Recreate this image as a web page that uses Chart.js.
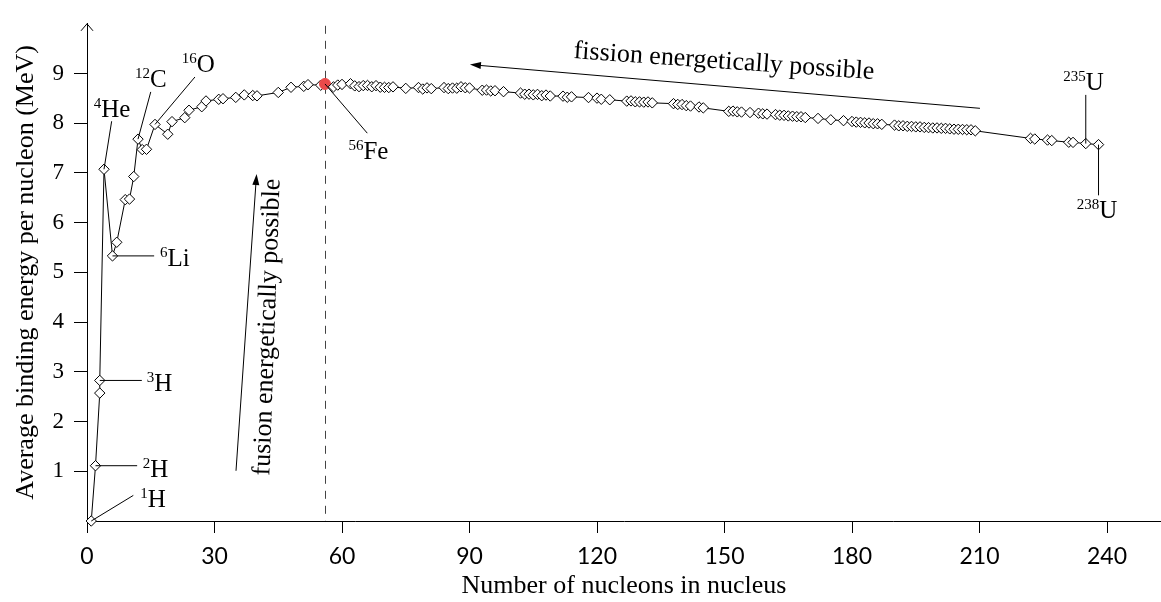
<!DOCTYPE html>
<html lang="en">
<head>
    <meta charset="UTF-8">
    <title>Binding energy per nucleon</title>
    <script src="https://cdn.jsdelivr.net/npm/chart.js"></script>
    <style>
        body {
            margin: 0;
            background: #fff;
        }
        #wrap {
            width: 1161px;
            height: 602px;
        }
    </style>
</head>
<body>
    <div id="wrap">
        <canvas id="beChart" width="1161" height="602"></canvas>
    </div>
    <script>
        // mass number A of each nucleus plotted
        const massNumber = [
            1, 2, 3, 3, 4, 6, 7, 9, 10, 11, 12, 13, 14, 16, 19, 20, 23, 24, 27, 28,
            31, 32, 35, 37, 39, 40, 45, 48, 51, 52, 55, 56, 58, 59, 60, 62, 63, 64, 65, 66,
            67, 68, 69, 70, 71, 72, 75, 78, 79, 80, 81, 84, 85, 86, 87, 88, 89, 90, 93, 94,
            95, 96, 98, 102, 103, 104, 105, 106, 107, 108, 109, 112, 113, 114, 118, 120, 121, 123, 127, 128,
            129, 130, 131, 132, 133, 138, 139, 140, 141, 142, 144, 145, 151, 152, 153, 154, 156, 158, 159, 160,
            162, 163, 164, 165, 166, 167, 168, 169, 172, 175, 178, 180, 181, 182, 183, 184, 185, 186, 187, 190,
            191, 192, 193, 194, 195, 196, 197, 198, 199, 200, 201, 202, 203, 204, 205, 206, 207, 208, 209, 222,
            223, 226, 227, 231, 232, 235, 238
        ];
        // average binding energy per nucleon (MeV)
        const bindingEnergy = [
            0, 1.112, 2.573, 2.827, 7.074, 5.332, 5.606, 6.463, 6.475, 6.928, 7.680, 7.470, 7.476, 7.976, 7.779, 8.032, 8.112, 8.261, 8.332, 8.448,
            8.481, 8.493, 8.520, 8.570, 8.557, 8.551, 8.619, 8.723, 8.742, 8.776, 8.765, 8.790, 8.732, 8.768, 8.781, 8.795, 8.752, 8.736, 8.757, 8.760,
            8.734, 8.756, 8.725, 8.722, 8.718, 8.732, 8.701, 8.718, 8.688, 8.711, 8.696, 8.717, 8.697, 8.708, 8.705, 8.733, 8.714, 8.710, 8.664, 8.667,
            8.649, 8.654, 8.635, 8.607, 8.584, 8.585, 8.571, 8.580, 8.554, 8.567, 8.548, 8.545, 8.523, 8.531, 8.517, 8.505, 8.482, 8.472, 8.445, 8.449,
            8.431, 8.430, 8.424, 8.428, 8.410, 8.394, 8.378, 8.376, 8.354, 8.346, 8.327, 8.309, 8.239, 8.244, 8.229, 8.225, 8.215, 8.202, 8.189, 8.184,
            8.174, 8.162, 8.159, 8.147, 8.142, 8.132, 8.130, 8.115, 8.097, 8.069, 8.052, 8.035, 8.023, 8.018, 8.008, 8.005, 7.991, 7.989, 7.978, 7.963,
            7.948, 7.949, 7.938, 7.936, 7.927, 7.927, 7.916, 7.912, 7.905, 7.906, 7.898, 7.897, 7.887, 7.880, 7.878, 7.875, 7.870, 7.868, 7.848, 7.695,
            7.683, 7.662, 7.651, 7.618, 7.615, 7.591, 7.570
        ];
        const xTicks = [0, 30, 60, 90, 120, 150, 180, 210, 240];
        const yTicks = [1, 2, 3, 4, 5, 6, 7, 8, 9];
        const ironA = 56;

        // labelled nuclei: [A, BE, leader end A, leader end BE, text A, text BE, mass number, symbol]
        const nuclideNotes = [
            [1, 0, 10.9, 0.515, 12.5, 0.28, '1', 'H'],
            [2, 1.112, 11.8, 1.112, 13.1, 0.89, '2', 'H'],
            [3, 2.827, 12.9, 2.827, 14.05, 2.61, '3', 'H'],
            [4, 7.074, 5.8, 8.04, 1.6, 8.125, '4', 'He'],
            [6, 5.332, 15.8, 5.332, 17.2, 5.13, '6', 'Li'],
            [12, 7.680, 15.0, 8.63, 11.3, 8.73, '12', 'C'],
            [16, 7.976, 25.4, 8.93, 22.3, 9.03, '16', 'O'],
            [56, 8.790, 65.95, 7.80, 61.5, 7.28, '56', 'Fe'],
            [235, 7.591, 235, 8.57, 229.7, 8.67, '235', 'U'],
            [238, 7.570, 238, 6.55, 232.9, 6.09, '238', 'U']
        ];

        const serif = '"Liberation Serif", "DejaVu Serif", serif';

        function arrow(ctx, x0, y0, x1, y1) {
            const ang = Math.atan2(y1 - y0, x1 - x0);
            ctx.beginPath();
            ctx.moveTo(x0, y0);
            ctx.lineTo(x1 - 8 * Math.cos(ang), y1 - 8 * Math.sin(ang));
            ctx.stroke();
            ctx.beginPath();
            ctx.moveTo(x1, y1);
            ctx.lineTo(x1 - 11 * Math.cos(ang) + 3.5 * Math.sin(ang), y1 - 11 * Math.sin(ang) - 3.5 * Math.cos(ang));
            ctx.lineTo(x1 - 11 * Math.cos(ang) - 3.5 * Math.sin(ang), y1 - 11 * Math.sin(ang) + 3.5 * Math.cos(ang));
            ctx.closePath();
            ctx.fill();
        }

        const notesPlugin = {
            id: 'notes',
            beforeDatasetsDraw(chart) {
                const {ctx, scales: {x}, chartArea} = chart;
                ctx.save();
                // dashed line at iron
                ctx.strokeStyle = '#444';
                ctx.lineWidth = 1;
                ctx.setLineDash([8, 7]);
                ctx.beginPath();
                ctx.moveTo(Math.round(x.getPixelForValue(ironA)) + 0.5, chartArea.top + 2);
                ctx.lineTo(Math.round(x.getPixelForValue(ironA)) + 0.5, chartArea.bottom);
                ctx.stroke();
                ctx.setLineDash([]);
                // arrow tip on the y axis
                ctx.strokeStyle = '#000';
                ctx.beginPath();
                ctx.moveTo(chartArea.left - 6, chartArea.top + 7);
                ctx.lineTo(chartArea.left, chartArea.top);
                ctx.lineTo(chartArea.left + 6, chartArea.top + 7);
                ctx.stroke();
                ctx.restore();
            },
            afterDatasetsDraw(chart) {
                const {ctx, scales: {x, y}} = chart;
                const px = v => x.getPixelForValue(v);
                const py = v => y.getPixelForValue(v);
                ctx.save();
                ctx.strokeStyle = '#000';
                ctx.fillStyle = '#000';
                ctx.lineWidth = 1;
                ctx.textAlign = 'left';
                ctx.textBaseline = 'alphabetic';

                nuclideNotes.forEach(([a, be, la, lbe, ta, tbe, sup, sym]) => {
                    ctx.beginPath();
                    ctx.moveTo(px(a), py(be));
                    ctx.lineTo(px(la), py(lbe));
                    ctx.stroke();
                    ctx.font = '15px ' + serif;
                    ctx.fillText(sup, px(ta), py(tbe) - 9);
                    const w = ctx.measureText(sup).width;
                    ctx.font = '25px ' + serif;
                    ctx.fillText(sym, px(ta) + w, py(tbe));
                });

                // fusion arrow and text
                arrow(ctx, px(35.06), py(1.01), px(39.9), py(6.98));
                ctx.save();
                ctx.translate(px(42.9), py(0.91));
                ctx.rotate(-88 * Math.PI / 180);
                ctx.font = '26px ' + serif;
                ctx.fillText('fusion energetically possible', 0, 0);
                ctx.restore();

                // fission arrow and text
                arrow(ctx, px(210.1), py(8.30), px(90.1), py(9.18));
                ctx.save();
                ctx.translate(px(114.4), py(9.31));
                ctx.rotate(4 * Math.PI / 180);
                ctx.font = '26px ' + serif;
                ctx.fillText('fission energetically possible', 0, 0);
                ctx.restore();
                ctx.restore();
            }
        };

        const points = massNumber.map((a, i) => ({x: a, y: bindingEnergy[i]}));
        const isIron = c => c.raw && c.raw.x === ironA;

        new Chart(document.getElementById('beChart'), {
            type: 'line',
            data: {
                datasets: [{
                    data: points,
                    borderColor: '#000',
                    borderWidth: 1,
                    tension: 0,
                    clip: false,
                    pointStyle: c => isIron(c) ? 'circle' : 'rectRot',
                    pointRadius: c => isIron(c) ? 5.5 : 5.2,
                    pointBackgroundColor: c => isIron(c) ? '#ea4a4a' : '#fff',
                    pointBorderColor: c => isIron(c) ? '#ea4a4a' : '#000',
                    pointBorderWidth: 1
                }]
            },
            options: {
                responsive: false,
                animation: false,
                events: [],
                layout: {autoPadding: false, padding: {top: 16, left: 0, right: 0, bottom: 0}},
                plugins: {legend: {display: false}, tooltip: {enabled: false}},
                scales: {
                    x: {
                        type: 'linear',
                        min: 0,
                        max: 252.7,
                        border: {color: '#000', width: 1},
                        grid: {drawOnChartArea: false, color: '#000', tickLength: 12},
                        ticks: {color: '#000', padding: 10, font: {family: 'Lato', size: 23}},
                        title: {
                            display: true,
                            text: 'Number of nucleons in nucleus',
                            color: '#000',
                            font: {family: serif, size: 26},
                            padding: {top: 0, bottom: 0}
                        },
                        afterBuildTicks: s => { s.ticks = xTicks.map(v => ({value: v})); },
                        afterFit: s => { s.height = 81; }
                    },
                    y: {
                        type: 'linear',
                        min: 0,
                        max: 10,
                        border: {color: '#000', width: 1},
                        grid: {drawOnChartArea: false, color: '#000', tickLength: 13},
                        ticks: {color: '#000', padding: 10, font: {family: serif, size: 23}},
                        title: {
                            display: true,
                            text: 'Average binding energy per nucleon (MeV)',
                            color: '#000',
                            font: {family: serif, size: 26},
                            padding: {top: 11, bottom: 11}
                        },
                        afterBuildTicks: s => { s.ticks = yTicks.map(v => ({value: v})); },
                        afterFit: s => { s.width = 87; }
                    }
                }
            },
            plugins: [notesPlugin]
        });
    </script>
</body>
</html>
